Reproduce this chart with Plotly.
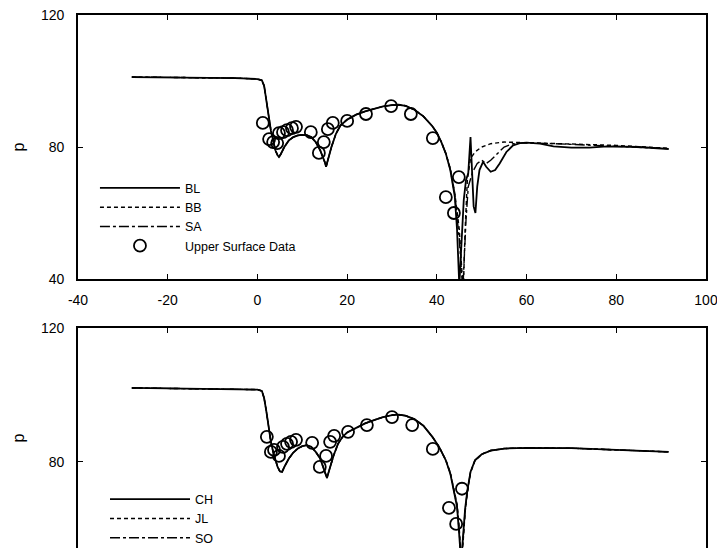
import plotly.graph_objects as go

# ---------------- Top panel data ----------------
bl_x = [-28, -20, -10, -5, 0, 1, 1.5, 2, 2.5, 3, 3.5, 4, 4.5, 4.8, 5.2, 6, 7, 8, 9, 10, 11, 12, 13, 14, 15,
        15.3, 15.8, 16.5, 17.5, 18.5, 20, 22, 24, 26, 28, 30, 31.5, 33, 35, 37, 39, 40, 41, 42, 43, 44,
        44.5, 45, 45.5, 46, 46.5, 47, 47.5, 47.8, 48.2, 48.6, 49, 49.5, 50.3, 51, 52, 53, 54, 55.5, 57,
        58.5, 60, 63, 66, 70, 74, 78, 85, 91.7]
bl_y = [101.2, 101.1, 101.0, 100.9, 100.6, 100.2, 98.5, 94, 89, 85, 82, 79, 77.5, 77, 77.8, 80, 82, 83, 83.5,
        83.7, 83.6, 83, 81.5, 79, 75.5,
        74, 76.5, 80, 84, 86.5, 88.3, 89.8, 90.8, 91.6, 92.3, 92.7, 92.8, 92.5, 91.3, 89.3, 86.3, 84.3, 81.5,
        78, 73, 65,
        55, 38, 52, 64, 70, 72, 83, 72, 62, 60, 68, 73, 75.5, 74, 72.5, 73, 75, 78.5, 80.5,
        81.2, 81.3, 81, 80.2, 79.8, 79.8, 80.2, 80, 79.4]

bb_x = [-28, -20, -10, -5, 0, 1, 1.5, 2, 2.5, 3, 3.5, 4, 4.5, 4.8, 5.2, 6, 7, 8, 9, 10, 11, 12, 13, 14, 15,
        15.3, 15.8, 16.5, 17.5, 18.5, 20, 22, 24, 26, 28, 30, 31.5, 33, 35, 37, 39, 40, 41, 42, 43, 44,
        45, 45.6, 45.9, 46.3, 46.8, 47.5, 48.5, 50, 52, 55, 60, 70, 80, 91.7]
bb_y = [101.2, 101.1, 101.0, 100.9, 100.6, 100.2, 98.5, 94, 89, 85, 82, 79, 77.5, 77, 77.8, 80, 82, 83, 83.5,
        83.7, 83.6, 83, 81.5, 79, 75.5,
        74, 76.5, 80, 84, 86.5, 88.3, 89.8, 90.8, 91.6, 92.3, 92.7, 92.8, 92.5, 91.3, 89.3, 86.3, 84.3, 81.5,
        78, 73.5, 66,
        55, 42, 37, 55, 70, 76.5, 78.5, 80, 81, 81.5, 81.3, 81, 80.5, 79.6]

sa_x = [-28, -20, -10, -5, 0, 1, 1.5, 2, 2.5, 3, 3.5, 4, 4.5, 4.8, 5.2, 6, 7, 8, 9, 10, 11, 12, 13, 14, 15,
        15.3, 15.8, 16.5, 17.5, 18.5, 20, 22, 24, 26, 28, 30, 31.5, 33, 35, 37, 39, 40, 41, 42, 43, 44,
        45, 45.5, 45.8, 46.5, 47, 48, 49, 50, 51, 52, 53.5, 55, 57, 60, 70, 80, 91.7]
sa_y = [101.2, 101.1, 101.0, 100.9, 100.6, 100.2, 98.5, 94, 89, 85, 82, 79, 77.5, 77, 77.8, 80, 82, 83, 83.5,
        83.7, 83.6, 83, 81.5, 79, 75.5,
        74, 76.5, 80, 84, 86.5, 88.3, 89.8, 90.8, 91.6, 92.3, 92.7, 92.8, 92.5, 91.3, 89.3, 86.3, 84.3, 81.5,
        78, 73.2, 65.5,
        52, 42, 37, 58, 68, 72.5, 75, 76, 75, 76, 78, 80, 81, 81.3, 80.8, 80.3, 79.5]

top_data_x = [1.2, 2.6, 3.5, 4.4, 4.8, 5.7, 6.6, 7.7, 8.6, 11.9, 13.7, 14.8, 15.7, 16.8, 20.0, 24.2,
              29.8, 34.2, 39.1, 42.0, 43.8, 44.9]
top_data_y = [87.3, 82.4, 81.5, 81.2, 84.2, 84.5, 85.1, 85.7, 86.1, 84.5, 78.2, 81.5, 85.4, 87.3, 87.9, 90.0,
              92.4, 90.0, 82.7, 64.8, 60.0, 70.9]

# ---------------- Bottom panel data ----------------
ch_x = [-28, -20, -10, -5, 0, 1, 1.5, 2, 2.5, 3, 3.5, 4, 4.5, 5, 5.5, 6, 7, 8, 9, 10, 11, 12, 13, 14, 15,
        15.5, 16, 17, 18, 19, 20, 22, 24, 26, 28, 30, 31.5, 33, 35, 37, 39, 40.5, 42, 43, 44, 44.5,
        45.0, 45.4, 45.8, 46.3, 46.8, 47.5, 48.5, 50, 52, 55, 60, 70, 80, 91.7]
ch_y = [102.1, 102.0, 101.9, 101.8, 101.6, 101.2, 99, 95, 90, 86, 83, 80.5, 78.5, 77.2, 77, 78.5, 81, 82.8,
        84, 84.7, 85, 84.5, 83, 81, 77.5,
        75.2, 77.5, 82, 85.5, 87.5, 88.8, 90.2, 91.5, 92.5, 93.4, 94, 94.1, 93.8, 92.8, 90.8, 87.5, 84.5,
        80.5, 76.5, 70, 66.6,
        58, 50, 57, 66, 71.5, 77, 80.5, 82.3, 83.4, 84, 84.2, 84.1, 83.6, 83]
jl_y = [102.1, 102.0, 101.9, 101.8, 101.6, 101.2, 99, 95, 90, 86, 83, 80.5, 78.5, 77.2, 77, 78.5, 81, 82.8,
        84, 84.7, 85, 84.5, 83, 81, 77.5,
        75.2, 77.5, 82, 85.5, 87.5, 88.8, 90.2, 91.5, 92.5, 93.4, 94, 94.1, 93.8, 92.8, 90.8, 87.5, 84.5,
        80.5, 76.8, 70.5, 67.5,
        60, 52, 55, 65, 71, 76.8, 80.4, 82.3, 83.4, 84, 84.2, 84.1, 83.6, 83]
so_y = [102.1, 102.0, 101.9, 101.8, 101.6, 101.2, 99, 95, 90, 86, 83, 80.5, 78.5, 77.2, 77, 78.5, 81, 82.8,
        84, 84.7, 85, 84.5, 83, 81, 77.5,
        75.2, 77.5, 82, 85.5, 87.5, 88.8, 90.2, 91.5, 92.5, 93.4, 94, 94.1, 93.8, 92.8, 90.8, 87.5, 84.5,
        80.5, 76.6, 70.2, 67,
        59, 51, 56, 65.5, 71.2, 76.9, 80.5, 82.3, 83.4, 84, 84.2, 84.1, 83.6, 83]

bot_data_x = [2.1, 3.0, 3.7, 4.8, 5.7, 6.6, 7.5, 8.6, 12.2, 13.9, 15.3, 16.2, 17.1, 20.2, 24.4, 30.0,
              34.5, 39.1, 42.7, 44.3, 45.6]
bot_data_y = [87.5, 83.0, 83.6, 81.8, 84.5, 85.4, 86.0, 86.6, 85.7, 78.5, 81.8, 86.0, 87.8, 89.0, 91.0, 93.4,
              91.0, 83.9, 66.3, 61.5, 72.0]

x_ticks = [-40, -20, 0, 20, 40, 60, 80, 100]
x_tick_text = ["-40", "-20", "0", "20", "40", "60", "80", "100"]
y_ticks = [40, 80, 120]
y_tick_text = ["40", "80", "120"]

FONT = "Liberation Sans, Arial, Helvetica, sans-serif"
BLACK = "black"
SOLID = "solid"
SHORTDASH = "4px,3px"
DASHDOT = "10px,3px,3px,3px"

fig = go.Figure()

# top panel traces
fig.add_trace(go.Scatter(x=bl_x, y=bl_y, mode="lines", name="BL", xaxis="x", yaxis="y",
                         line=dict(color=BLACK, width=1.8, dash=SOLID), legend="legend"))
fig.add_trace(go.Scatter(x=bb_x, y=bb_y, mode="lines", name="BB", xaxis="x", yaxis="y",
                         line=dict(color=BLACK, width=1.4, dash=SHORTDASH), legend="legend"))
fig.add_trace(go.Scatter(x=sa_x, y=sa_y, mode="lines", name="SA", xaxis="x", yaxis="y",
                         line=dict(color=BLACK, width=1.4, dash=DASHDOT), legend="legend"))
fig.add_trace(go.Scatter(x=top_data_x, y=top_data_y, mode="markers", name="Upper Surface Data",
                         xaxis="x", yaxis="y", legend="legend",
                         marker=dict(symbol="circle-open", size=12, color=BLACK, line=dict(width=1.8))))

# bottom panel traces
fig.add_trace(go.Scatter(x=ch_x, y=ch_y, mode="lines", name="CH", xaxis="x2", yaxis="y2",
                         line=dict(color=BLACK, width=1.8, dash=SOLID), legend="legend2"))
fig.add_trace(go.Scatter(x=ch_x, y=jl_y, mode="lines", name="JL", xaxis="x2", yaxis="y2",
                         line=dict(color=BLACK, width=1.4, dash=SHORTDASH), legend="legend2"))
fig.add_trace(go.Scatter(x=ch_x, y=so_y, mode="lines", name="SO", xaxis="x2", yaxis="y2",
                         line=dict(color=BLACK, width=1.4, dash=DASHDOT), legend="legend2"))
fig.add_trace(go.Scatter(x=bot_data_x, y=bot_data_y, mode="markers", name="Upper Surface Data",
                         xaxis="x2", yaxis="y2", showlegend=False,
                         marker=dict(symbol="circle-open", size=12, color=BLACK, line=dict(width=1.8))))

axis_common = dict(showgrid=False, zeroline=False, showline=True, linecolor=BLACK, linewidth=1.6,
                   ticks="inside", ticklen=5, tickcolor=BLACK, tickwidth=1.2, automargin=False,
                   ticklabeloverflow="allow",
                   tickfont=dict(family=FONT, size=14, color=BLACK))

ytitle = dict(text="p", font=dict(family=FONT, size=16, color=BLACK), standoff=12)

fig.update_layout(
    width=717, height=548,
    margin=dict(l=78, r=11, t=15, b=0, autoexpand=False),
    paper_bgcolor="white", plot_bgcolor="white",
    font=dict(family=FONT, size=13, color=BLACK),
    xaxis=dict(domain=[0, 1], range=[-40, 100], tickvals=x_ticks, ticktext=x_tick_text, mirror="ticks",
               anchor="y", ticklabelstandoff=7, **axis_common),
    yaxis=dict(domain=[0.5047, 1], range=[40, 120], tickvals=y_ticks, ticktext=y_tick_text, mirror="ticks",
               anchor="x", ticklabelstandoff=9, title=ytitle, **axis_common),
    xaxis2=dict(domain=[0, 1], range=[-40, 100], tickvals=x_ticks, ticktext=x_tick_text, side="top",
                anchor="y2", showticklabels=False, **axis_common),
    yaxis2=dict(domain=[0, 0.4128], range=[54.3, 120], tickvals=y_ticks, ticktext=y_tick_text,
                mirror="ticks", anchor="x2", ticklabelstandoff=9, title=ytitle, **axis_common),
    legend=dict(x=0.027, y=0.703, xanchor="left", yanchor="top", bgcolor="rgba(0,0,0,0)",
                font=dict(family=FONT, size=12.5, color=BLACK), itemwidth=80, tracegroupgap=0),
    legend2=dict(x=0.043, y=0.119, xanchor="left", yanchor="top", bgcolor="rgba(0,0,0,0)",
                 font=dict(family=FONT, size=12.5, color=BLACK), itemwidth=80, tracegroupgap=0),
)

fig.write_html("out.html")
